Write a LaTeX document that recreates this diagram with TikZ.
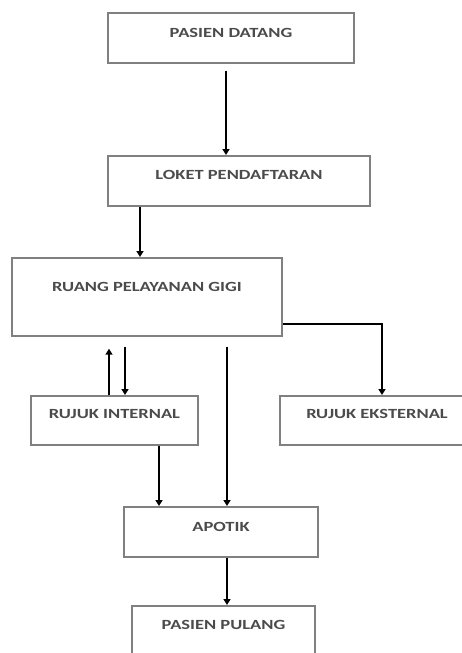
\documentclass[tikz,border=0pt]{standalone}
\usepackage{fontspec}
\newfontfamily\boxfont[FakeStretch=1.32]{Carlito}
\usetikzlibrary{arrows.meta}
\definecolor{boxgray}{RGB}{128,128,128}
\definecolor{txtgray}{RGB}{75,75,75}
\tikzset{
  box/.style={draw=boxgray, line width=1.7pt, rectangle, anchor=north,
    inner xsep=0pt, inner ysep=0pt, text=txtgray,
    font=\boxfont\bfseries\fontsize{14}{16}\selectfont},
  arr/.style={draw=black, line width=1.7pt,
    -{Triangle[length=6pt,width=7pt]}}
}
\begin{document}
\begin{tikzpicture}[x=1pt,y=-1pt]
\clip (0,0) rectangle (462,653);
\fill[white] (0,0) rectangle (462,653);

\node[box, minimum width=246pt, text height=24.5pt, text depth=25.5pt] (pd) at (231,12) {PASIEN DATANG};
\node[box, minimum width=262pt, text height=23.5pt, text depth=26.5pt] (lp) at (239,155) {LOKET PENDAFTARAN};
\node[box, minimum width=270pt, text height=33.5pt, text depth=44.5pt] (rg) at (147,257) {RUANG PELAYANAN GIGI};
\node[box, minimum width=167pt, text height=22.5pt, text depth=26.5pt] (ri) at (114.5,395) {RUJUK INTERNAL};
\node[box, minimum width=194pt, text height=22.5pt, text depth=26.5pt] (re) at (377,395) {RUJUK EKSTERNAL};
\node[box, minimum width=194pt, text height=24.5pt, text depth=25.5pt] (ap) at (221,506) {APOTIK};
\node[box, minimum width=183pt, text height=23.5pt, text depth=26.5pt] (pp) at (223.5,605) {PASIEN PULANG};

% connectors
\draw[arr, shorten <=7pt] ([xshift=-5pt]pd.south) -- ([xshift=-5pt]pd.south |- lp.north);
\draw[arr] ([xshift=-99pt]lp.south) -- ([xshift=-99pt]lp.south |- rg.north);
\draw[arr] ([yshift=-27pt]rg.east) -| ([xshift=5pt]re.north);
\draw[arr, shorten >=12pt] ([xshift=-5.5pt]ri.north) -- ([xshift=-5.5pt]ri.north |- rg.south);
\draw[arr, shorten <=10pt] ([xshift=10.5pt]ri.north |- rg.south) -- ([xshift=10.5pt]ri.north);
\draw[arr, shorten <=10pt] ([xshift=80pt]rg.south) -- ([xshift=80pt]rg.south |- ap.north);
\draw[arr] ([xshift=44.5pt]ri.south) -- ([xshift=44.5pt]ri.south |- ap.north);
\draw[arr] ([xshift=6pt]ap.south) -- ([xshift=6pt]ap.south |- pp.north);
\end{tikzpicture}
\end{document}
